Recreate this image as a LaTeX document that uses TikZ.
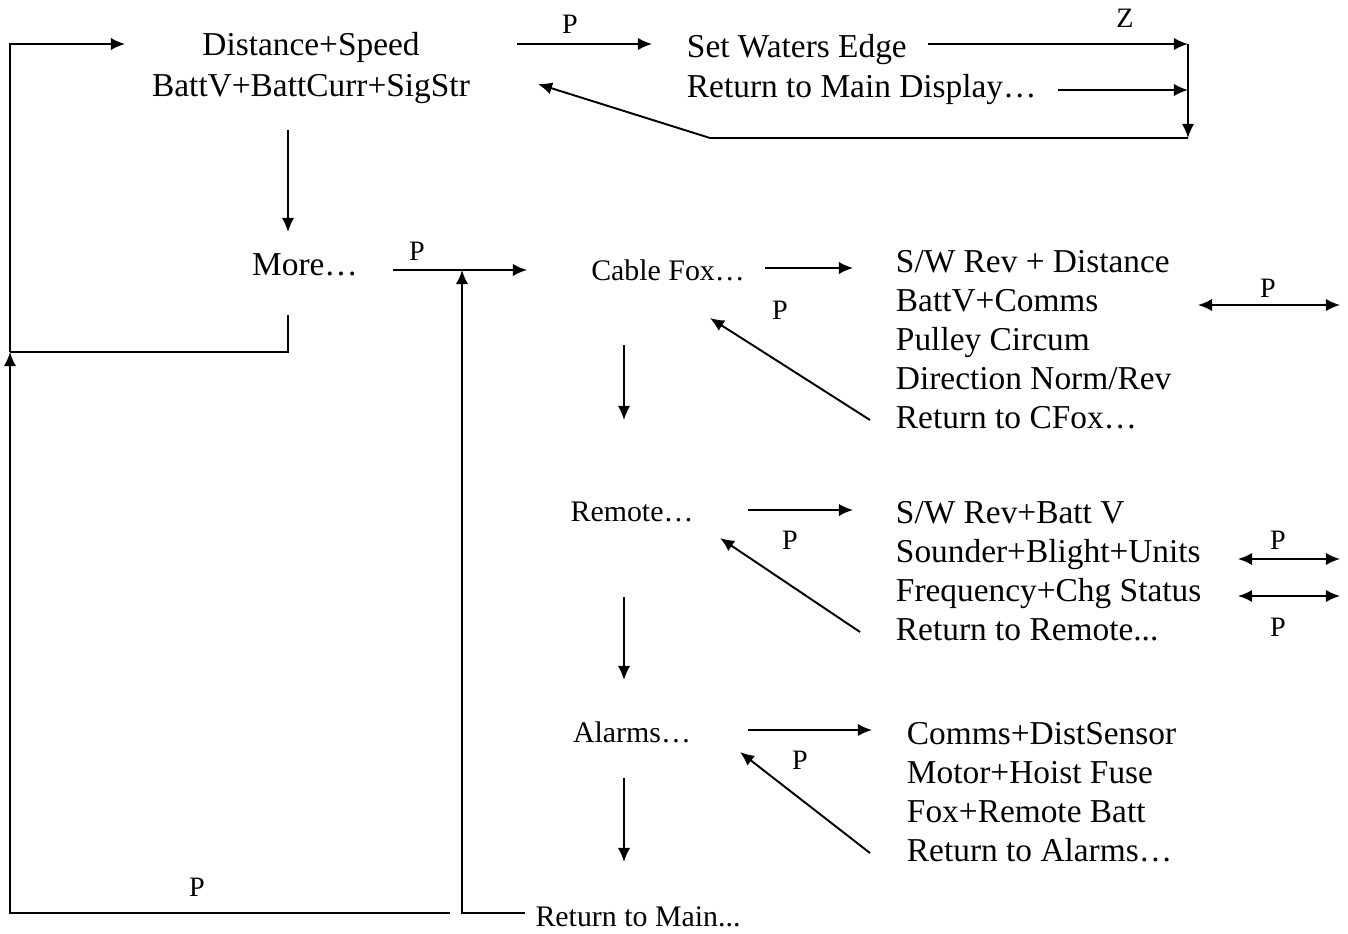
\documentclass[tikz,border=0pt]{standalone}
\usepackage{fontspec}
\setmainfont{Liberation Serif}
\usetikzlibrary{arrows.meta}

\newcommand{\tdots}{...}

\tikzset{
  big/.style={font=\fontsize{19}{22.8}\selectfont, inner sep=0pt},
  menu/.style={font=\fontsize{17}{20}\selectfont, inner sep=0pt},
  item/.style={big, anchor=base west},
  lbl/.style={font=\fontsize{16}{18}\selectfont, inner sep=0pt},
}

\begin{document}
\begin{tikzpicture}[x=0.02cm, y=-0.02cm, line width=1.1pt,
    >={Latex[length=8pt,width=7pt]}]

    \useasboundingbox (0,0) rectangle (1348,933);

    % Main display
    \node[big, align=center] (main) at (311,68) {Distance+Speed\\BattV+BattCurr+SigStr};
    \node[item] (set) at (686,57) {Set Waters Edge};
    \node[item] (retmd) at (686,97) {Return to Main Display…};

    % Menus
    \node[big] (more) at (305,265) {More…};
    \node[menu] (cfox) at (668,270) {Cable Fox…};
    \node[menu] (remote) at (632,512) {Remote…};
    \node[menu] (alarms) at (632,732) {Alarms…};
    \node[menu] (retmain) at (638,917) {Return to Main\tdots};

    % Sub-menu items
    \foreach \t [count=\i] in {{S/W Rev + Distance}, {BattV+Comms}, {Pulley Circum},
        {Direction Norm/Rev}, {Return to CFox…}}
        \node[item] (cf\i) at (895,{272+39*(\i-1)}) {\t};
    \foreach \t [count=\i] in {{S/W Rev+Batt V}, {Sounder+Blight+Units},
        {Frequency+Chg Status}, {Return to Remote\tdots}}
        \node[item] (rm\i) at (895,{523+39*(\i-1)}) {\t};
    \foreach \t [count=\i] in {{Comms+DistSensor}, {Motor+Hoist Fuse},
        {Fox+Remote Batt}, {Return to Alarms…}}
        \node[item] (al\i) at (906,{744+39*(\i-1)}) {\t};

    % Main display loop
    \coordinate (tl) at (10,44);
    \coordinate (mainin) at (125,44);
    \coordinate (ml) at (10,352);
    \coordinate (morebot) at (288,315);
    \coordinate (bl) at (10,913);
    \coordinate (bm) at (450,913);
    \draw (morebot) -- (morebot |- ml) -- (ml);
    \draw[->] (ml) -- (tl) -- (mainin);
    \draw[->] (bm) -- (bl) -- (ml);
    \node[lbl] (pback) at (197,887) {P};

    % Return to Main back to More
    \coordinate (rmo) at (525,913);
    \coordinate (rmup) at (462,270);
    \draw[->] (rmo) -- (rmup |- rmo) -- (rmup);

    % Set waters edge
    \coordinate (mainout) at (517,44);
    \coordinate (setin) at (652,44);
    \draw[->] (mainout) -- (setin);
    \node[lbl] (pset) at (570,24) {P};
    \coordinate (setout) at (928,44);
    \coordinate (rc) at (1188,44);
    \coordinate (rmdout) at (1058,90);
    \coordinate (rb) at (1188,138);
    \coordinate (rbl) at (710,138);
    \coordinate (mainret) at (538,84);
    \draw[->] (setout) -- (rc);
    \node[lbl] (pz) at (1125,18) {Z};
    \draw[->] (rmdout) -- (rc |- rmdout);
    \draw[->] (rc) -- (rb);
    \draw[->] (rb) -- (rbl) -- (mainret);

    % Down arrows
    \draw[->] (288,130) coordinate (md1) -- (288,232) coordinate (md2);
    \draw[->] (624,345) coordinate (cd1) -- (624,420) coordinate (cd2);
    \draw[->] (624,597) coordinate (rd1) -- (624,680) coordinate (rd2);
    \draw[->] (624,778) coordinate (ad1) -- (624,862) coordinate (ad2);

    % More -> Cable Fox
    \draw[->] (393,270) coordinate (mo1) -- (527,270) coordinate (mo2);
    \node[lbl] (pmore) at (417,251) {P};

    % Cable Fox
    \draw[->] (765,268) coordinate (cf1o) -- (853,268) coordinate (cf1i);
    \draw[->] (870,420) coordinate (cfr1) -- (710,318) coordinate (cfr2);
    \node[lbl] (pcf) at (780,310) {P};
    \draw[<->] (1198,305) coordinate (cfa) -- (1340,305) coordinate (cfb);
    \node[lbl] (pcf2) at (1268,288) {P};

    % Remote
    \draw[->] (748,510) coordinate (re1o) -- (853,510) coordinate (re1i);
    \draw[->] (860,632) coordinate (rer1) -- (720,538) coordinate (rer2);
    \node[lbl] (prm) at (790,540) {P};
    \draw[<->] (1238,559) coordinate (rea) -- (1340,559) coordinate (reb);
    \node[lbl] (prm2) at (1278,540) {P};
    \draw[<->] (1238,596) coordinate (rec) -- (1340,596) coordinate (red);
    \node[lbl] (prm3) at (1278,627) {P};

    % Alarms
    \draw[->] (748,730) coordinate (al1o) -- (872,730) coordinate (al1i);
    \draw[->] (870,853) coordinate (alr1) -- (740,752) coordinate (alr2);
    \node[lbl] (pal) at (800,760) {P};

\end{tikzpicture}
\end{document}
